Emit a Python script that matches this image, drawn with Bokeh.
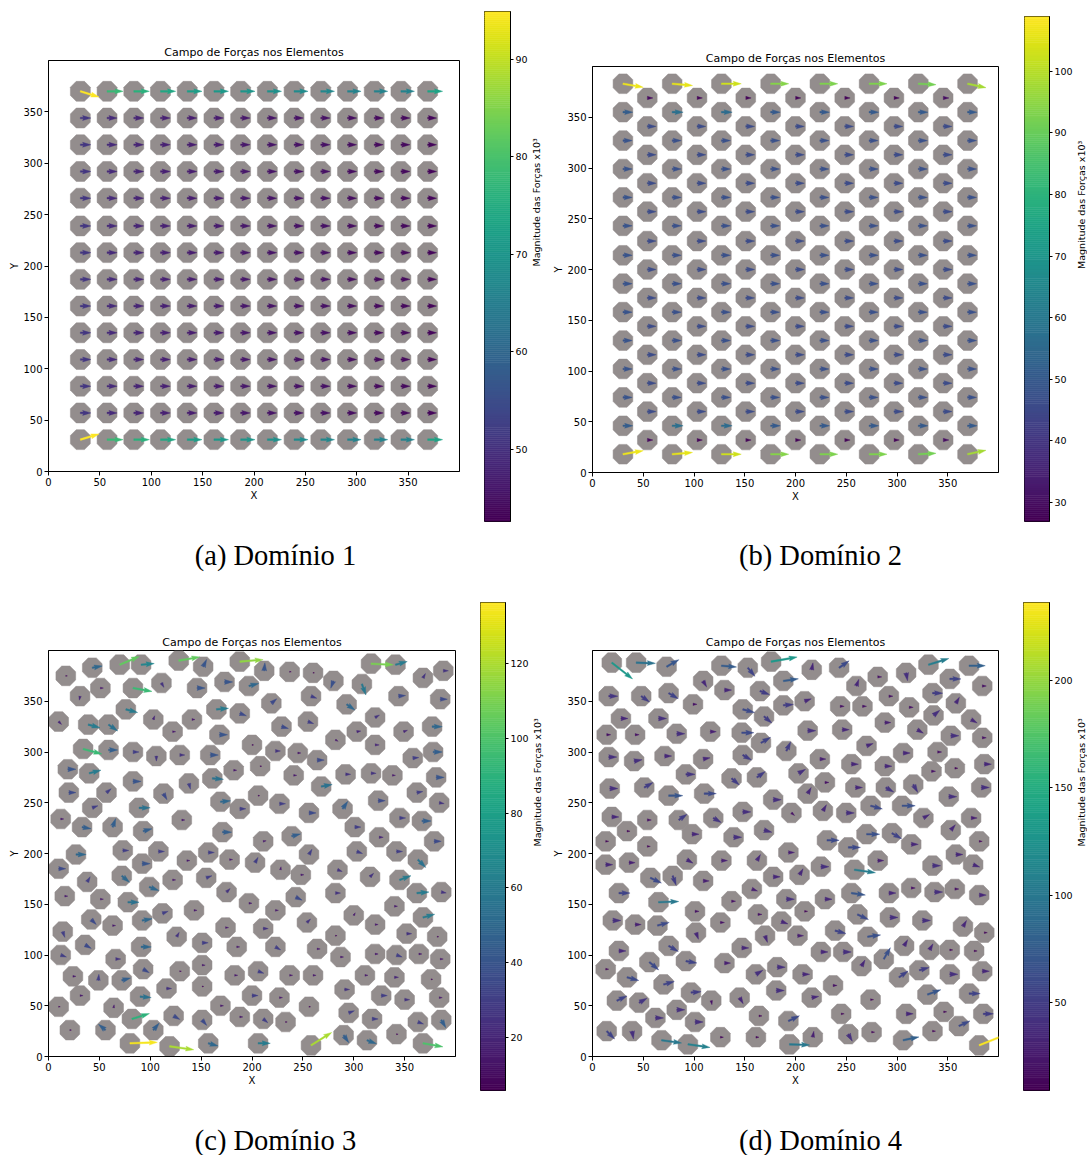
import numpy as np
from jinja2 import Template
from bokeh.plotting import figure
from bokeh.models import Range1d, FixedTicker
from bokeh.palettes import Viridis256
from bokeh.core.properties import value
from bokeh.embed import file_html
from bokeh.resources import INLINE

# ---------------- texts ----------------
TITLE = "Campo de Forças nos Elementos"
X_LABEL = "X"
Y_LABEL = "Y"
CBAR_LABEL = "Magnitude das Forças x10³"
CAPTIONS = ["(a) Domínio 1", "(b) Domínio 2", "(c) Domínio 3", "(d) Domínio 4"]
AXIS_TICKS = [0, 50, 100, 150, 200, 250, 300, 350]
AXIS_RANGE = (0, 400)
ELEMENT_RADIUS = 9.7

# ---------------- Domain 1 (square grid) ----------------
D1_COL_X = [31, 57, 83, 109, 135, 161, 187, 213, 239, 265, 291, 317, 343, 369]
D1_ROW_Y = [31, 57, 83, 109, 135, 161, 187, 213, 239, 266, 292, 318, 344, 370]
D1_TOP_MAG = [95, 78, 76, 74, 72, 71, 70, 69, 68, 67, 66, 66, 66, 73]
D1_TOP_ANG = [-17, 0, 0, 0, 0, 0, 0, 0, 0, 0, 0, 0, 0, 0]
D1_BOTTOM_MAG = [95, 78, 76, 74, 72, 71, 70, 69, 68, 67, 66, 66, 66, 73]
D1_BOTTOM_ANG = [17, 0, 0, 0, 0, 0, 0, 0, 0, 0, 0, 0, 0, 0]
D1_INNER_MAG = [51, 49, 48, 47.5, 47, 46.5, 46, 45.5, 45, 45, 44.5, 44, 44, 43.5]
D1_CBAR = (42.6, 94.9)
D1_CBAR_TICKS = [50, 60, 70, 80, 90]

# ---------------- Domain 2 (hexagonal packing) ----------------
D2_EVEN_X = [30, 78.5, 127, 175.5, 224, 272.5, 321, 369.5]
D2_ODD_X = [54, 103, 151, 200, 248.5, 297, 345.5]
D2_EVEN_Y = [18, 46, 74, 102, 130, 158, 186, 214, 243, 271, 299, 327, 355, 383]
D2_ODD_Y = [32, 60, 88, 116, 144, 172, 200, 228, 257, 285, 313, 341, 369]
D2_EDGE_MAG = [107, 106, 103, 94, 93, 93, 92, 98]
D2_BOTTOM_ANG = [10, 5, 0, 0, 0, 0, 3, 12]
D2_TOP_ANG = [-10, -5, 0, 0, 0, 0, -3, -12]
D2_NEAR_EDGE_MAG = [51, 57, 56, 50, 50, 50, 50, 50]
D2_EVEN_INNER_MAG = [48, 47, 47, 47, 47, 47, 47, 47]
D2_ODD_EDGE_MAG = [29, 28, 28, 28, 28, 28, 30]
D2_ODD_INNER_MAG = [46, 46, 46, 46, 46, 46, 46]
D2_CBAR = (26.9, 108.9)
D2_CBAR_TICKS = [30, 40, 50, 60, 70, 80, 90, 100]

# ---------------- Domain 3 (random packing) ----------------
D3_X = [17, 43, 70, 91, 128, 152, 188, 212, 237, 260,
        280, 308, 317, 341, 368, 388, 51, 31, 83, 111,
        146, 173, 197, 258, 344, 385, 10, 76, 39, 59,
        103, 141, 165, 188, 219, 122, 168, 229, 255, 293,
        321, 303, 282, 349, 377, 321, 34, 59, 83, 106,
        129, 159, 200, 223, 245, 264, 358, 378, 19, 40,
        182, 208, 241, 292, 317, 338, 381, 83, 138, 161,
        268, 20, 57, 113, 206, 169, 188, 227, 256, 289,
        324, 362, 384, 43, 89, 12, 33, 63, 93, 131,
        171, 301, 345, 367, 211, 239, 325, 379, 27, 73,
        108, 136, 157, 178, 203, 256, 303, 342, 363, 10,
        92, 72, 38, 122, 155, 228, 248, 284, 316, 345,
        99, 16, 51, 78, 175, 197, 223, 243, 282, 362,
        386, 340, 143, 112, 42, 92, 63, 300, 368, 174,
        211, 254, 321, 14, 126, 352, 282, 382, 36, 91,
        151, 185, 223, 264, 12, 66, 287, 321, 342, 364,
        385, 93, 151, 129, 206, 24, 49, 72, 183, 237,
        260, 311, 340, 376, 31, 90, 116, 151, 200, 227,
        291, 327, 350, 384, 10, 64, 169, 256, 82, 123,
        151, 188, 211, 233, 295, 318, 363, 386, 21, 56,
        103, 342, 80, 119, 157, 206, 258, 290, 313, 368]
D3_Y = [375, 383, 386, 386, 390, 384, 389, 380, 379, 378,
        370, 367, 387, 386, 373, 380, 363, 355, 363, 368,
        363, 369, 365, 355, 355, 352, 330, 342, 327, 327,
        332, 332, 342, 338, 348, 320, 317, 325, 330, 347,
        334, 320, 312, 320, 325, 307, 303, 302, 300, 296,
        297, 297, 307, 301, 299, 292, 294, 300, 283, 279,
        282, 286, 277, 278, 279, 277, 275, 271, 269, 274,
        266, 260, 260, 259, 257, 251, 244, 249, 240, 244,
        252, 260, 250, 245, 245, 234, 226, 226, 222, 233,
        221, 226, 235, 232, 212, 217, 216, 212, 199, 203,
        202, 193, 201, 194, 191, 199, 202, 202, 194, 185,
        190, 178, 172, 174, 176, 184, 179, 184, 177, 174,
        167, 158, 155, 152, 162, 151, 144, 157, 161, 161,
        162, 148, 144, 141, 135, 134, 129, 139, 137, 127,
        126, 132, 130, 123, 118, 121, 119, 118, 110, 108,
        112, 108, 108, 106, 100, 96, 98, 101, 100, 101,
        96, 86, 90, 84, 84, 79, 75, 75, 80, 80,
        80, 80, 78, 76, 60, 59, 67, 69, 60, 58,
        66, 60, 56, 58, 49, 48, 50, 49, 37, 40,
        36, 39, 37, 34, 43, 37, 34, 36, 26, 26,
        26, 22, 13, 10, 13, 13, 11, 21, 16, 13]
D3_ANG = [0, 10, 23, 5, 10, 65, 5, 85, 0, 0,
          -110, -70, -3, 15, 60, 0, 0, -100, -10, -60,
          0, 0, 15, -20, 5, 0, -45, -15, -15, -35,
          70, 0, 5, -20, 40, 0, 0, -15, -20, -35,
          30, 10, -30, 20, 0, 0, -15, 0, 0, -90,
          0, 0, 0, 0, 0, 0, 5, 0, 0, 15,
          0, 0, 0, 0, 0, 0, 0, 0, -75, -5,
          10, 0, 40, -60, 0, 5, 0, 0, 0, 55,
          0, 10, -10, 20, 0, 0, -10, 70, 15, 0,
          0, 0, 0, 0, 10, 15, 0, 0, 0, 0,
          0, 0, 0, 0, 60, 60, -20, 0, -45, 0,
          0, -40, 60, 0, 20, 80, 0, -20, 45, 20,
          -20, 0, 0, 0, 45, 0, 0, -25, 0, 5,
          -10, 0, 0, 20, -45, 10, 0, 60, 15, 0,
          0, 45, 0, -70, 60, 0, 0, 0, -30, 0,
          0, 0, -30, 0, -20, 0, 0, 0, -20, 0,
          0, -30, 0, 0, -20, 0, 85, 15, 0, 0,
          0, 0, 0, 0, 0, -5, 0, 0, 0, 0,
          0, 0, 0, 0, 0, 80, 0, 0, 17, -30,
          -50, 0, -40, 0, 20, 0, -20, -60, 0, 140,
          50, 0, 2, -8, -15, 0, 32, -55, -20, -10]
D3_MAG = [8, 50, 105, 65, 105, 40, 115, 40, 8, 7,
          38, 58, 110, 60, 25, 25, 15, 20, 95, 25,
          40, 40, 50, 30, 35, 35, 20, 60, 60, 55,
          20, 15, 60, 35, 35, 15, 40, 35, 30, 50,
          25, 20, 15, 20, 50, 20, 95, 45, 30, 25,
          25, 40, 8, 25, 15, 35, 30, 45, 40, 60,
          15, 8, 15, 25, 25, 15, 40, 40, 30, 55,
          55, 35, 30, 35, 8, 50, 30, 30, 35, 45,
          35, 30, 25, 30, 55, 15, 45, 45, 45, 15,
          45, 30, 30, 45, 15, 45, 20, 35, 50, 30,
          30, 15, 30, 15, 30, 30, 30, 30, 55, 35,
          40, 50, 30, 15, 30, 15, 15, 25, 25, 60,
          50, 15, 15, 55, 25, 15, 15, 35, 25, 60,
          25, 15, 15, 30, 35, 50, 15, 15, 60, 15,
          25, 25, 15, 30, 25, 25, 8, 8, 35, 50,
          30, 15, 30, 15, 30, 25, 15, 15, 30, 15,
          15, 35, 15, 8, 30, 15, 30, 45, 15, 15,
          15, 15, 20, 8, 15, 55, 25, 8, 30, 15,
          25, 30, 25, 15, 8, 15, 15, 8, 90, 35,
          35, 15, 30, 8, 30, 30, 30, 45, 8, 45,
          45, 8, 135, 120, 50, 60, 120, 45, 50, 100]
D3_CBAR = (5.8, 136.3)
D3_CBAR_TICKS = [20, 40, 60, 80, 100, 120]

# ---------------- Domain 4 (random packing) ----------------
D4_X = [19, 43, 73, 127, 153, 176, 216, 243, 281, 309,
        331, 371, 188, 109, 130, 165, 260, 352, 384, 16,
        48, 75, 99, 209, 188, 148, 169, 244, 266, 292,
        312, 335, 358, 28, 65, 336, 373, 288, 14, 42,
        83, 116, 147, 166, 212, 246, 320, 353, 384, 270,
        191, 148, 306, 340, 16, 41, 71, 109, 224, 255,
        288, 334, 357, 386, 92, 203, 137, 162, 229, 259,
        289, 316, 17, 51, 75, 110, 383, 351, 178, 212,
        274, 305, 148, 196, 227, 250, 19, 54, 85, 119,
        326, 373, 34, 98, 139, 169, 231, 270, 295, 353,
        13, 54, 252, 314, 381, 13, 36, 93, 127, 162,
        193, 358, 375, 335, 281, 258, 225, 204, 178, 57,
        79, 109, 157, 26, 65, 137, 191, 229, 255, 292,
        314, 337, 357, 381, 101, 163, 209, 261, 20, 42,
        64, 126, 186, 293, 325, 365, 386, 102, 170, 202,
        239, 271, 75, 147, 26, 225, 247, 287, 307, 332,
        352, 376, 13, 56, 92, 130, 182, 265, 34, 161,
        207, 302, 322, 352, 384, 70, 237, 97, 181, 117,
        145, 216, 274, 330, 371, 24, 46, 83, 62, 101,
        164, 193, 245, 309, 346, 385, 361, 14, 39, 68,
        94, 126, 161, 194, 217, 252, 275, 306, 335, 381]
D4_Y = [388, 388, 384, 385, 383, 389, 381, 383, 374, 378,
        386, 385, 370, 370, 361, 360, 365, 372, 365, 355,
        355, 358, 347, 350, 346, 342, 335, 345, 345, 355,
        344, 358, 348, 333, 333, 336, 332, 329, 317, 317,
        318, 320, 319, 309, 321, 322, 322, 316, 314, 306,
        301, 297, 299, 300, 295, 291, 296, 293, 293, 288,
        286, 281, 284, 288, 278, 279, 274, 275, 270, 265,
        265, 268, 264, 265, 257, 259, 265, 256, 253, 259,
        247, 247, 241, 240, 242, 240, 236, 233, 233, 235,
        235, 235, 222, 219, 216, 223, 213, 219, 220, 223,
        212, 207, 206, 209, 212, 189, 191, 194, 193, 193,
        201, 199, 189, 188, 193, 184, 187, 179, 177, 176,
        178, 173, 165, 161, 152, 153, 155, 155, 161, 161,
        166, 162, 165, 159, 143, 140, 143, 140, 134, 130,
        129, 132, 133, 137, 134, 128, 122, 122, 119, 119,
        124, 118, 109, 107, 104, 103, 103, 96, 109, 105,
        105, 104, 86, 93, 94, 92, 88, 89, 78, 81,
        81, 78, 85, 81, 84, 71, 70, 63, 65, 55,
        58, 58, 56, 61, 62, 55, 53, 46, 38, 34,
        40, 35, 42, 42, 44, 42, 30, 25, 25, 16,
        12, 19, 19, 12, 19, 22, 24, 16, 25, 11]
D4_ANG = [-38, -2, 30, -5, -50, 10, 80, 35, 0, -80,
          17, 0, 8, -60, 0, -20, 70, 0, 0, 0,
          -35, -30, 0, 20, 5, -15, -40, 0, 0, 0,
          0, 0, 60, 0, 0, 40, -30, 0, 0, 0,
          0, 0, 0, 30, 0, 0, -30, 0, 0, 20,
          65, -30, 0, 0, 0, 10, 0, 10, 0, 0,
          0, 0, 0, 0, 0, 30, -40, 35, 0, 0,
          -30, -60, 0, 30, 0, 0, 0, 0, 0, 60,
          -15, 0, 0, -40, 60, 0, 0, 0, 35, -30,
          30, 0, 0, 0, 0, -15, 0, 0, -30, 50,
          0, 0, 0, 0, 0, 0, 0, -30, 0, 60,
          0, 0, -20, 0, 0, -8, 0, 60, 0, -25,
          -70, 0, -20, 0, 2, 0, 0, 0, -8, 0,
          0, 0, 0, 0, 0, 0, 0, -25, 0, 0,
          15, 0, -20, 0, 0, 60, 0, -70, -70, 0,
          -15, 8, -30, 0, 0, 0, 0, 60, 60, 60,
          0, 0, 0, -40, -10, 0, 0, 60, -15, 30,
          0, 35, 15, 0, 0, 15, 0, 5, 0, -80,
          -60, 10, 0, 20, 0, 25, 30, 0, 0, 0,
          0, 25, 0, 0, 0, 0, 25, -45, -80, -8,
          -8, 0, 0, -2, 80, -60, 0, 12, 0, 22]
D4_MAG = [130, 95, 70, 75, 55, 130, 35, 60, 20, 40,
          105, 80, 75, 35, 35, 50, 35, 55, 20, 45,
          50, 55, 20, 35, 50, 60, 50, 20, 20, 20,
          20, 50, 35, 35, 40, 40, 35, 30, 20, 20,
          40, 30, 60, 55, 40, 35, 35, 40, 20, 35,
          50, 50, 35, 20, 40, 40, 35, 35, 30, 35,
          35, 20, 15, 35, 45, 40, 50, 50, 20, 35,
          45, 45, 40, 50, 70, 60, 40, 40, 40, 35,
          60, 65, 40, 20, 35, 40, 35, 20, 50, 45,
          35, 30, 15, 35, 40, 40, 60, 65, 55, 35,
          15, 15, 60, 35, 15, 35, 30, 35, 30, 35,
          30, 35, 35, 40, 30, 105, 40, 35, 35, 60,
          50, 30, 30, 55, 100, 20, 40, 35, 70, 35,
          20, 40, 20, 35, 20, 20, 15, 60, 40, 30,
          60, 20, 35, 40, 40, 35, 15, 35, 35, 30,
          55, 65, 55, 35, 35, 35, 40, 65, 35, 35,
          15, 15, 15, 60, 55, 30, 40, 35, 60, 40,
          35, 55, 50, 40, 35, 55, 20, 50, 40, 20,
          35, 35, 15, 70, 55, 55, 45, 40, 40, 40,
          15, 60, 15, 35, 15, 50, 60, 55, 40, 100,
          110, 15, 15, 100, 30, 40, 15, 80, 15, 235]
D4_CBAR = (9.3, 236.2)
D4_CBAR_TICKS = [50, 100, 150, 200]

# ---------------- styles ----------------
GRAY = "#938d8d"
FONT = "DejaVu Sans"
SERIF = "Liberation Serif"
MAIN_BORDER = dict(left=70, right=20, top=70, bottom=60)
CBAR_BORDER = dict(left=10, right=48, top=10, bottom=10)


def viridis(m, lo, hi):
    t = (m - lo) / (hi - lo)
    t = min(max(t, 0.0), 1.0)
    return Viridis256[int(round(t * 255))]


def octagons(xs, ys, r):
    a = np.deg2rad(22.5 + 45 * np.arange(8))
    R = r / np.cos(np.pi / 8)
    pxs = [list(x + R * np.cos(a)) for x in xs]
    pys = [list(y + R * np.sin(a)) for y in ys]
    return pxs, pys


def arrows(xs, ys, angs, mags, scale):
    w, hw, hl, hal = 1.6, 4.8, 8.0, 7.2
    pxs, pys = [], []
    for x, y, a, m in zip(xs, ys, angs, mags):
        L = scale * m
        s = min(1.0, L / hl)
        sw, shw, shl, shal = w * s, hw * s, hl * s, hal * s
        u = np.array([0, L - shal, L - shl, L, L - shl, L - shal, 0])
        v = np.array([-sw / 2, -sw / 2, -shw / 2, 0, shw / 2, sw / 2, sw / 2])
        t = np.deg2rad(a)
        pxs.append(list(x + u * np.cos(t) - v * np.sin(t)))
        pys.append(list(y + u * np.sin(t) + v * np.cos(t)))
    return pxs, pys


def main_panel(xs, ys, angs, mags, cbar, scale, fw, fh):
    b = MAIN_BORDER
    p = figure(frame_width=fw, frame_height=fh,
               min_border_left=b["left"], min_border_right=b["right"],
               min_border_top=b["top"], min_border_bottom=b["bottom"],
               x_range=Range1d(*AXIS_RANGE), y_range=Range1d(*AXIS_RANGE),
               title=TITLE, toolbar_location=None, output_backend="svg")
    p.border_fill_color = None
    p.background_fill_color = "white"
    p.xgrid.visible = False
    p.ygrid.visible = False
    p.outline_line_color = "black"
    p.outline_line_width = 1
    p.title.text_font = FONT
    p.title.text_font_size = "11px"
    p.title.text_font_style = "normal"
    p.title.text_color = "black"
    p.title.align = "center"
    p.title.standoff = 3
    for ax in (p.xaxis[0], p.yaxis[0]):
        ax.ticker = FixedTicker(ticks=AXIS_TICKS)
        ax.major_label_text_font = FONT
        ax.major_label_text_font_size = "10px"
        ax.major_label_text_color = "black"
        ax.axis_label_text_font = FONT
        ax.axis_label_text_font_size = "10px"
        ax.axis_label_text_font_style = "normal"
        ax.axis_label_text_color = "black"
        ax.minor_tick_line_color = None
        ax.major_tick_in = 0
        ax.major_tick_out = 4
        ax.major_label_standoff = 2
        ax.axis_line_color = "black"
        ax.major_tick_line_color = "black"
    p.xaxis[0].axis_label = X_LABEL
    p.xaxis[0].axis_label_standoff = 1
    p.yaxis[0].axis_label = Y_LABEL
    p.yaxis[0].axis_label_standoff = 0

    oxs, oys = octagons(xs, ys, ELEMENT_RADIUS)
    p.patches(xs=oxs, ys=oys, fill_color=GRAY, line_color=GRAY, line_width=0.5)
    axs, ays = arrows(xs, ys, angs, mags, scale)
    cols = [viridis(m, *cbar) for m in mags]
    p.patches(xs=axs, ys=ays, fill_color=cols, line_color=cols, line_width=0.4)
    return p


def cbar_panel(lo, hi, ticks, fw, fh):
    b = CBAR_BORDER
    c = figure(frame_width=fw, frame_height=fh,
               min_border_left=b["left"], min_border_right=b["right"],
               min_border_top=b["top"], min_border_bottom=b["bottom"],
               x_range=Range1d(0, 1), y_range=Range1d(lo, hi),
               x_axis_location=None, y_axis_location="right",
               toolbar_location=None, output_backend="svg")
    c.border_fill_color = None
    c.xgrid.visible = False
    c.ygrid.visible = False
    edges = np.linspace(lo, hi, 257)
    pal = list(Viridis256)
    c.quad(left=0, right=1, bottom=edges[:-1], top=edges[1:],
           fill_color=pal, line_color=pal, line_width=0.6)
    c.outline_line_color = "black"
    c.outline_line_width = 1
    ax = c.yaxis[0]
    ax.ticker = FixedTicker(ticks=ticks)
    ax.major_label_text_font = FONT
    ax.major_label_text_font_size = "9.5px"
    ax.major_label_text_color = "black"
    ax.minor_tick_line_color = None
    ax.major_tick_in = 0
    ax.major_tick_out = 3
    ax.major_label_standoff = 2
    ax.axis_line_color = "black"
    ax.axis_label = CBAR_LABEL
    ax.axis_label_text_font = FONT
    ax.axis_label_text_font_size = "9.5px"
    ax.axis_label_text_font_style = "normal"
    ax.axis_label_text_color = "black"
    ax.axis_label_standoff = 6
    if "axis_label_orientation" in ax.properties():
        try:
            ax.axis_label_orientation = float(np.pi / 2)
        except Exception:
            pass
    return c


def caption_panel(texts, xs, y, w, h):
    f = figure(frame_width=w, frame_height=h, min_border=0,
               x_range=Range1d(0, w), y_range=Range1d(0, h),
               x_axis_location=None, y_axis_location=None,
               toolbar_location=None, output_backend="svg")
    f.border_fill_color = None
    f.background_fill_color = None
    f.xgrid.visible = False
    f.ygrid.visible = False
    f.outline_line_color = None
    f.text(x=xs, y=[y] * len(xs), text=texts, text_font=value(SERIF),
           text_font_size="28.5px", text_align="center", text_baseline="middle",
           text_color="black")
    return f


# ---------- assemble domain 1 ----------
d1x, d1y, d1a, d1m = [], [], [], []
for j, y in enumerate(D1_ROW_Y):
    for i, x in enumerate(D1_COL_X):
        d1x.append(x)
        d1y.append(y)
        if j == len(D1_ROW_Y) - 1:
            d1m.append(D1_TOP_MAG[i]); d1a.append(D1_TOP_ANG[i])
        elif j == 0:
            d1m.append(D1_BOTTOM_MAG[i]); d1a.append(D1_BOTTOM_ANG[i])
        else:
            d1m.append(D1_INNER_MAG[i]); d1a.append(0)

# ---------- assemble domain 2 ----------
d2x, d2y, d2a, d2m = [], [], [], []
for j, y in enumerate(D2_EVEN_Y):
    for i, x in enumerate(D2_EVEN_X):
        d2x.append(x); d2y.append(y)
        if j == 0:
            d2m.append(D2_EDGE_MAG[i]); d2a.append(D2_BOTTOM_ANG[i])
        elif j == len(D2_EVEN_Y) - 1:
            d2m.append(D2_EDGE_MAG[i]); d2a.append(D2_TOP_ANG[i])
        elif j in (1, len(D2_EVEN_Y) - 2):
            d2m.append(D2_NEAR_EDGE_MAG[i]); d2a.append(0)
        else:
            d2m.append(D2_EVEN_INNER_MAG[i]); d2a.append(0)
for j, y in enumerate(D2_ODD_Y):
    for i, x in enumerate(D2_ODD_X):
        d2x.append(x); d2y.append(y)
        if j in (0, len(D2_ODD_Y) - 1):
            d2m.append(D2_ODD_EDGE_MAG[i])
        else:
            d2m.append(D2_ODD_INNER_MAG[i])
        d2a.append(0)

# ---------- figures (frame sizes) ----------
pA = main_panel(d1x, d1y, d1a, d1m, D1_CBAR, 0.2, 411, 411)
cA = cbar_panel(*D1_CBAR, D1_CBAR_TICKS, 26, 510)
pB = main_panel(d2x, d2y, d2a, d2m, D2_CBAR, 0.19, 406, 406)
cB = cbar_panel(*D2_CBAR, D2_CBAR_TICKS, 25, 505)
pC = main_panel(D3_X, D3_Y, D3_ANG, D3_MAG, D3_CBAR, 0.2, 407, 406)
cC = cbar_panel(*D3_CBAR, D3_CBAR_TICKS, 25, 488)
pD = main_panel(D4_X, D4_Y, D4_ANG, D4_MAG, D4_CBAR, 0.2, 406, 406)
cD = cbar_panel(*D4_CBAR, D4_CBAR_TICKS, 26, 488)
capTop = caption_panel(CAPTIONS[:2], [275, 820], 22, 1087, 47)
capBottom = caption_panel(CAPTIONS[2:], [275, 820], 15, 1087, 45)

# page placement: frame top-left corners (page pixels) minus the fixed borders
MB, CB = MAIN_BORDER, CBAR_BORDER
ROOTS = [pA, cA, pB, cB, pC, cC, pD, cD, capTop, capBottom]
FRAME_POS = [(48, 60), (484, 11), (592, 66), (1024, 16),
             (48, 650), (480, 602), (592, 650), (1023, 602),
             (0, 530), (0, 1110)]
BORDERS = [MB, CB, MB, CB, MB, CB, MB, CB,
           dict(left=0, top=0), dict(left=0, top=0)]
SLOTS = [[fx - b["left"], fy - b["top"]] for (fx, fy), b in zip(FRAME_POS, BORDERS)]

PAGE = Template("""{% from macros import embed %}<!DOCTYPE html>
<html lang="en">
<head>
<meta charset="utf-8">
<title>{{ title }}</title>
{{ bokeh_css }}
{{ bokeh_js }}
<style>
html, body { margin: 0; padding: 0; background: #ffffff; width: 1087px; height: 1155px; overflow: hidden; }
.slot { position: absolute; }
</style>
</head>
<body>
{% for i in range(slots|length) %}
<div class="slot" style="left: {{ slots[i][0] }}px; top: {{ slots[i][1] }}px;">{{ embed(roots[i]) }}</div>
{% endfor %}
{{ plot_script }}
</body>
</html>
""")

open("out.html", "w").write(file_html(ROOTS, INLINE, title=TITLE, template=PAGE,
                                      template_variables={"slots": SLOTS}))
